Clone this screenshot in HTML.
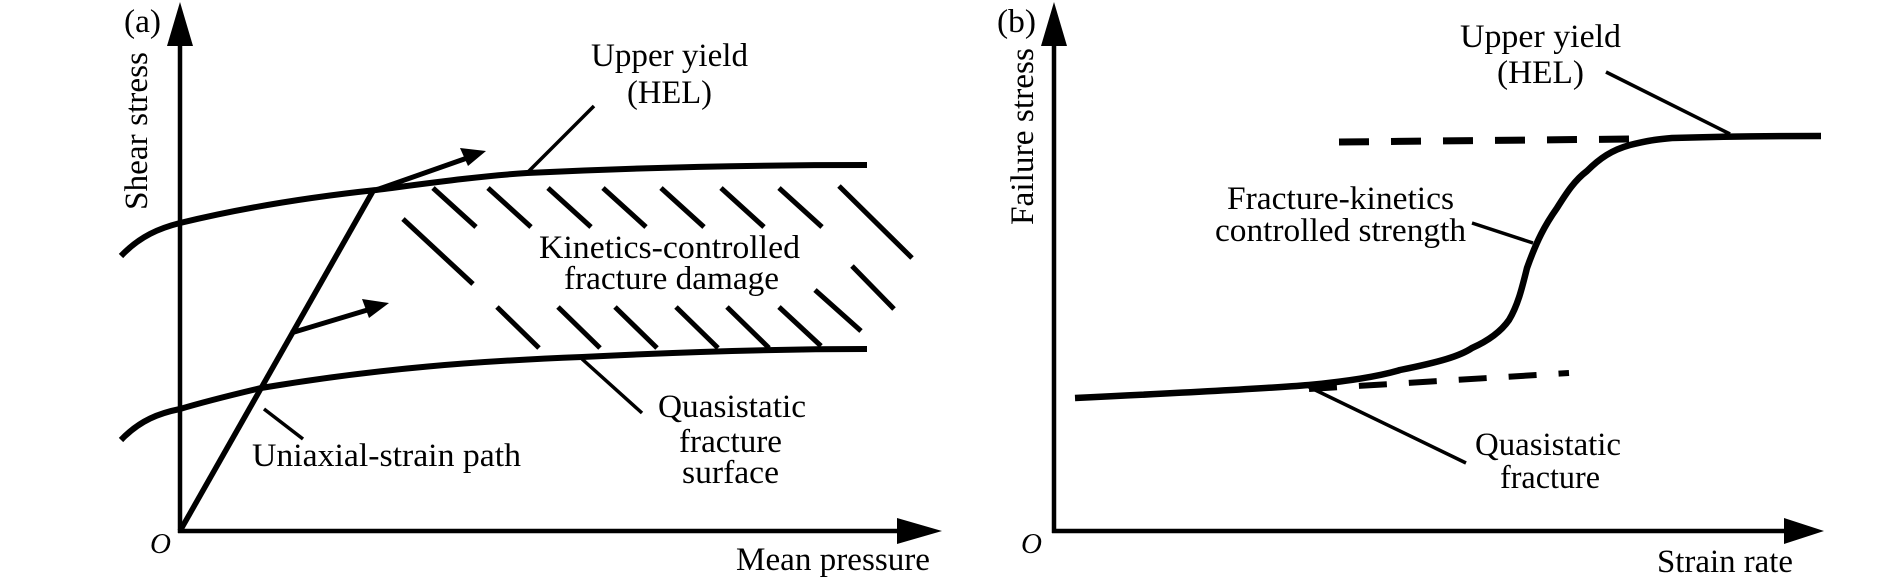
<!DOCTYPE html>
<html><head><meta charset="utf-8"><style>html,body{margin:0;padding:0;background:#fff}svg{display:block}</style></head><body>
<svg width="1890" height="579" viewBox="0 0 1890 579" xmlns="http://www.w3.org/2000/svg" font-family="'Liberation Serif', serif" font-size="33" fill="#000">
<g stroke="#000" fill="none" stroke-linecap="butt">
<line x1="180" y1="40" x2="180" y2="533" stroke-width="4.5"/>
<polygon points="180,2 167,46 193,46" fill="#000" stroke="none"/>
<line x1="178" y1="531" x2="900" y2="531" stroke-width="4.5"/>
<polygon points="942,531 897,518 897,544" fill="#000" stroke="none"/>
<path d="M121,256 C140,236 160,228 180,223 C250,206 320,196 376,190 C430,183 480,176 527,173 C650,167 760,165 867,165" stroke-width="6"/>
<path d="M121,440 C140,420 160,413 180,409 C210,400 240,393 261,388 C380,368 480,361 582,357 C700,351 800,349 867,349" stroke-width="6"/>
<line x1="180" y1="531" x2="373" y2="191" stroke-width="5.5"/>
<line x1="376" y1="190" x2="470" y2="157" stroke-width="5"/>
<polygon points="486,151 460,148 468,166" fill="#000" stroke="none"/>
<line x1="291" y1="333" x2="374" y2="308" stroke-width="5"/>
<polygon points="389,303 362,299 369,318" fill="#000" stroke="none"/>
<g stroke-width="5">
<line x1="433" y1="188" x2="476" y2="227"/>
<line x1="488" y1="188" x2="531" y2="227"/>
<line x1="548" y1="188" x2="591" y2="227"/>
<line x1="603" y1="188" x2="646" y2="227"/>
<line x1="661" y1="188" x2="704" y2="227"/>
<line x1="721" y1="188" x2="764" y2="227"/>
<line x1="779" y1="188" x2="822" y2="227"/>
<line x1="839" y1="186" x2="912" y2="258"/>
<line x1="403" y1="219" x2="473" y2="284"/>
<line x1="497" y1="307" x2="539" y2="348"/>
<line x1="558" y1="307" x2="600" y2="348"/>
<line x1="615" y1="307" x2="657" y2="348"/>
<line x1="676" y1="307" x2="718" y2="348"/>
<line x1="727" y1="307" x2="769" y2="348"/>
<line x1="779" y1="307" x2="821" y2="346"/>
<line x1="815" y1="290" x2="861" y2="331"/>
<line x1="852" y1="266" x2="894" y2="309"/>
</g>
<line x1="594" y1="106" x2="527" y2="173" stroke-width="3.5"/>
<line x1="264" y1="409" x2="303" y2="439" stroke-width="3.5"/>
<line x1="582" y1="359" x2="642" y2="413" stroke-width="3.5"/>

<line x1="1054" y1="40" x2="1054" y2="533" stroke-width="4.5"/>
<polygon points="1054,2 1041,46 1067,46" fill="#000" stroke="none"/>
<line x1="1052" y1="531" x2="1788" y2="531" stroke-width="4.5"/>
<polygon points="1824,531 1784,518 1784,544" fill="#000" stroke="none"/>
<line x1="1339" y1="142" x2="1630" y2="139" stroke-width="7" stroke-dasharray="30,22"/>
<line x1="1309" y1="389" x2="1569" y2="373" stroke-width="6" stroke-dasharray="28,22"/>
<path d="M1075,398 C1180,393 1260,389 1309,385 C1350,381 1380,376 1400,370 C1440,362 1460,356 1472,348 C1490,340 1502,330 1509,320 C1518,305 1522,288 1527,268 C1537,240 1545,225 1557,208 C1567,192 1575,180 1587,171 C1600,158 1612,150 1630,145 C1650,140 1660,139 1672,138 C1740,136 1790,136 1821,136" stroke-width="6.5"/>
<line x1="1606" y1="72" x2="1730" y2="134" stroke-width="3.5"/>
<line x1="1472" y1="223" x2="1533" y2="243" stroke-width="3.5"/>
<line x1="1309" y1="387" x2="1466" y2="463" stroke-width="3.5"/>
</g>

<text x="124" y="32" textLength="37" lengthAdjust="spacingAndGlyphs">(a)</text>
<text transform="translate(147,210) rotate(-90)" textLength="158" lengthAdjust="spacingAndGlyphs">Shear stress</text>
<text x="150" y="553" font-style="italic" font-size="29">O</text>
<text x="736" y="570" textLength="194" lengthAdjust="spacingAndGlyphs">Mean pressure</text>
<text x="591" y="66" textLength="157" lengthAdjust="spacingAndGlyphs">Upper yield</text>
<text x="627" y="103" textLength="85" lengthAdjust="spacingAndGlyphs">(HEL)</text>
<text x="539" y="258" textLength="261" lengthAdjust="spacingAndGlyphs">Kinetics-controlled</text>
<text x="564" y="289" textLength="215" lengthAdjust="spacingAndGlyphs">fracture damage</text>
<text x="252" y="466" textLength="269" lengthAdjust="spacingAndGlyphs">Uniaxial-strain path</text>
<text x="658" y="417" textLength="148" lengthAdjust="spacingAndGlyphs">Quasistatic</text>
<text x="679" y="452" textLength="103" lengthAdjust="spacingAndGlyphs">fracture</text>
<text x="682" y="483" textLength="97" lengthAdjust="spacingAndGlyphs">surface</text>

<text x="997" y="32" textLength="39" lengthAdjust="spacingAndGlyphs">(b)</text>
<text transform="translate(1033,225) rotate(-90)" textLength="177" lengthAdjust="spacingAndGlyphs">Failure stress</text>
<text x="1021" y="553" font-style="italic" font-size="29">O</text>
<text x="1657" y="572" textLength="136" lengthAdjust="spacingAndGlyphs">Strain rate</text>
<text x="1460" y="47" textLength="161" lengthAdjust="spacingAndGlyphs">Upper yield</text>
<text x="1497" y="83" textLength="87" lengthAdjust="spacingAndGlyphs">(HEL)</text>
<text x="1227" y="209" textLength="227" lengthAdjust="spacingAndGlyphs">Fracture-kinetics</text>
<text x="1215" y="241" textLength="251" lengthAdjust="spacingAndGlyphs">controlled strength</text>
<text x="1475" y="455" textLength="146" lengthAdjust="spacingAndGlyphs">Quasistatic</text>
<text x="1500" y="488" textLength="100" lengthAdjust="spacingAndGlyphs">fracture</text>
</svg>
</body></html>
